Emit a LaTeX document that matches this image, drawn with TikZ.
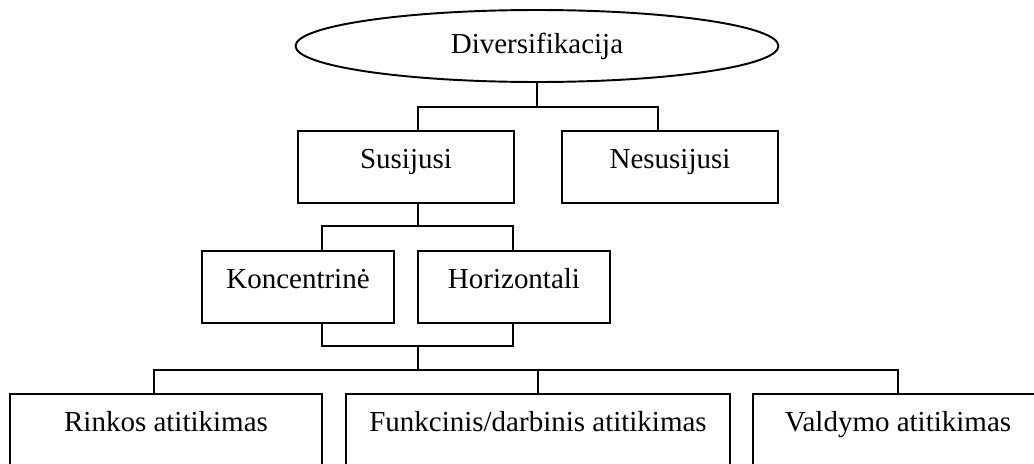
\documentclass[tikz,border=0pt]{standalone}
\usepackage{fontspec}
\setmainfont{Liberation Serif}
\usetikzlibrary{shapes.geometric}

\begin{document}
\begin{tikzpicture}[x=0.02cm,y=-0.02cm,
                line width=1.1pt,
                every node/.style={font=\fontsize{16.5}{20}\selectfont},
                rbox/.style={draw,anchor=north,inner xsep=0pt,inner ysep=0pt,
                             text height=0.76cm,text depth=0.68cm}]
 \useasboundingbox (0,0) rectangle (1034,463);
 \node[draw,ellipse,minimum width=9.66cm,minimum height=1.44cm,inner sep=0pt] (div) at (537,46) {Diversifikacija};
 \node[rbox,minimum width=4.32cm] (sus) at (406,130) {Susijusi};
 \node[rbox,minimum width=4.32cm] (nes) at (670,130) {Nesusijusi};
 \node[rbox,minimum width=3.84cm] (kon) at (298,250) {Koncentrinė};
 \node[rbox,minimum width=3.84cm] (hor) at (514,250) {Horizontali};
 \node[rbox,minimum width=6.24cm] (rin) at (166,393) {Rinkos atitikimas};
 \node[rbox,minimum width=7.68cm] (fun) at (538,393) {Funkcinis/darbinis atitikimas};
 \node[rbox,minimum width=5.80cm] (val) at (898,393) {Valdymo atitikimas};
 \coordinate (b1l) at (418,107);
 \coordinate (b1r) at (658,107);
 \coordinate (b2l) at (322,226);
 \coordinate (b2r) at (513,226);
 \coordinate (b3l) at (322,346);
 \coordinate (b3r) at (513,346);
 \coordinate (b4l) at (154,370);
 \coordinate (b4r) at (898,370);
 \draw (div.south) -- (div.south |- b1l);
 \draw (sus.north -| b1l) |- (b1r) -- (b1r |- nes.north);
 \draw (sus.south -| b1l) -- (b1l |- b2l);
 \draw (kon.north -| b2l) |- (b2r) -- (b2r |- hor.north);
 \draw (kon.south -| b3l) |- (b3r) -- (b3r |- hor.south);
 \draw (b1l |- b3l) -- (b1l |- b4l);
 \draw (rin.north -| b4l) |- (b4r) -- (b4r |- val.north);
 \draw (fun.north) -- (fun.north |- b4l);
\end{tikzpicture}
\end{document}
